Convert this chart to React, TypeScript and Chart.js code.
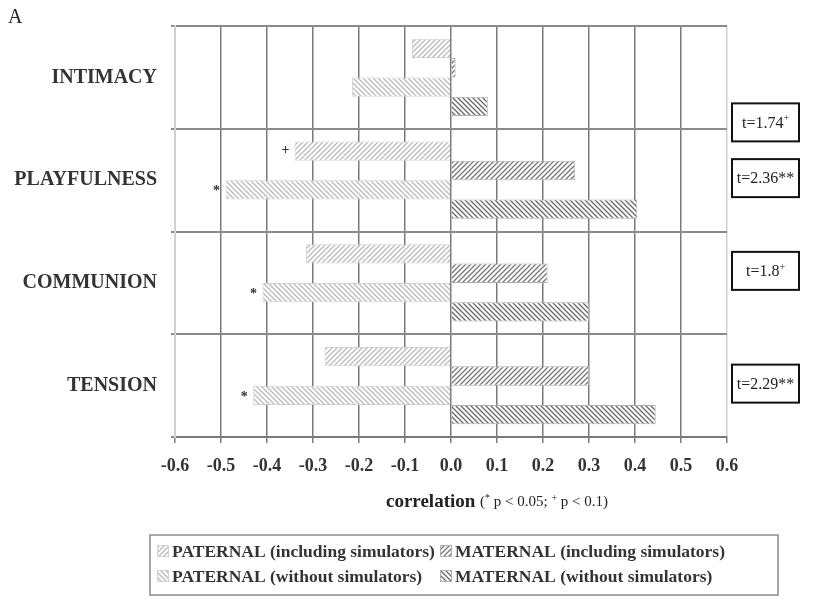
import { useEffect, useRef } from "react";
import { Chart, registerables } from "chart.js";

Chart.register(...registerables);

// ---------- data ----------
const categories = ["INTIMACY", "PLAYFULNESS", "COMMUNION", "TENSION"];
const seriesLabels = [
  "PATERNAL (including simulators)",
  "MATERNAL (including simulators)",
  "PATERNAL (without simulators)",
  "MATERNAL (without simulators)",
];
const paternalIncluding = [-0.085, -0.34, -0.315, -0.275];
const maternalIncluding = [0.01, 0.27, 0.21, 0.3];
const paternalWithout = [-0.215, -0.49, -0.41, -0.43];
const maternalWithout = [0.08, 0.405, 0.3, 0.445];
const paternalIncludingSig = ["", "+", "", ""];
const paternalWithoutSig = ["", "*", "*", "*"];
const tValues = ["1.74", "2.36", "1.8", "2.29"];
const tMarks = ["+", "**", "+", "**"];
const axisTitle = "correlation";
const axisNote = ["(", "*", " p < 0.05; ", "+", " p < 0.1)"];
const panelLetter = "A";

// ---------- layout constants ----------
const W = 831;
const H = 601;
const SERIF = "'Liberation Serif', 'Times New Roman', serif";
const T_BOX_OFFSETS = [45, -2, -12, -2];

function makePattern(color: string, forward: boolean) {
  const s = 5;
  const c = document.createElement("canvas");
  c.width = s;
  c.height = s;
  const g = c.getContext("2d")!;
  g.fillStyle = "#ffffff";
  g.fillRect(0, 0, s, s);
  g.strokeStyle = color;
  g.lineWidth = 1.3;
  g.beginPath();
  if (forward) {
    g.moveTo(0, s);
    g.lineTo(s, 0);
    g.moveTo(-1, 1);
    g.lineTo(1, -1);
    g.moveTo(s - 1, s + 1);
    g.lineTo(s + 1, s - 1);
  } else {
    g.moveTo(0, 0);
    g.lineTo(s, s);
    g.moveTo(-1, s - 1);
    g.lineTo(1, s + 1);
    g.moveTo(s - 1, -1);
    g.lineTo(s + 1, 1);
  }
  g.stroke();
  return g.createPattern(c, "repeat")!;
}

export default function App() {
  const ref = useRef<HTMLCanvasElement | null>(null);

  useEffect(() => {
    if (!ref.current) return;
    const patterns = [
      makePattern("#bababa", true),
      makePattern("#767676", true),
      makePattern("#bababa", false),
      makePattern("#686868", false),
    ];
    const borders = ["#d2d2d2", "#b0b0b0", "#d2d2d2", "#b0b0b0"];
    const values = [paternalIncluding, maternalIncluding, paternalWithout, maternalWithout];
    const sigs = [paternalIncludingSig, null, paternalWithoutSig, null];

    const overlay = {
      id: "overlay",
      afterDatasetsDraw(chart: any) {
        const ctx = chart.ctx as CanvasRenderingContext2D;
        ctx.save();
        ctx.fillStyle = "#333";
        ctx.font = `bold 14px ${SERIF}`;
        ctx.textAlign = "center";
        ctx.textBaseline = "middle";
        sigs.forEach((arr, di) => {
          if (!arr) return;
          const meta = chart.getDatasetMeta(di);
          arr.forEach((m, i) => {
            if (!m) return;
            const el = meta.data[i];
            ctx.fillText(m, el.x - 9, el.y + (m === "*" ? 2 : -1));
          });
        });
        ctx.restore();
      },
      afterDraw(chart: any) {
        const ctx = chart.ctx as CanvasRenderingContext2D;
        const area = chart.chartArea;
        const yScale = chart.scales.y;
        ctx.save();

        // panel letter
        ctx.fillStyle = "#222";
        ctx.font = `20px ${SERIF}`;
        ctx.textAlign = "left";
        ctx.textBaseline = "middle";
        ctx.fillText(panelLetter, 8, 18);

        // t boxes
        tValues.forEach((t, i) => {
          const cy = yScale.getPixelForValue(i) + T_BOX_OFFSETS[i];
          const bx = area.right + 5;
          const bw = 67;
          const bh = 38;
          ctx.strokeStyle = "#111";
          ctx.lineWidth = 2;
          ctx.strokeRect(bx, cy - bh / 2, bw, bh);
          const main = `t=${t}`;
          const mark = tMarks[i];
          const sup = mark === "+";
          ctx.font = `16px ${SERIF}`;
          const w1 = ctx.measureText(main).width;
          ctx.font = sup ? `10px ${SERIF}` : `16px ${SERIF}`;
          const w2 = ctx.measureText(mark).width;
          const sx = bx + (bw - w1 - w2) / 2;
          ctx.fillStyle = "#222";
          ctx.textAlign = "left";
          ctx.textBaseline = "middle";
          ctx.font = `16px ${SERIF}`;
          ctx.fillText(main, sx, cy + 1);
          ctx.font = sup ? `10px ${SERIF}` : `16px ${SERIF}`;
          ctx.fillText(mark, sx + w1, sup ? cy - 4 : cy + 1);
        });

        // axis title
        const ty = area.bottom + 65;
        const parts: { t: string; f: string; dy: number }[] = [
          { t: axisTitle + " ", f: `bold 19px ${SERIF}`, dy: 0 },
          { t: axisNote[0], f: `15px ${SERIF}`, dy: 0 },
          { t: axisNote[1], f: `10px ${SERIF}`, dy: -4 },
          { t: axisNote[2], f: `15px ${SERIF}`, dy: 0 },
          { t: axisNote[3], f: `10px ${SERIF}`, dy: -4 },
          { t: axisNote[4], f: `15px ${SERIF}`, dy: 0 },
        ];
        let total = 0;
        parts.forEach((p) => {
          ctx.font = p.f;
          total += ctx.measureText(p.t).width;
        });
        let px = (area.left + area.right) / 2 + 46 - total / 2;
        ctx.fillStyle = "#222";
        ctx.textAlign = "left";
        ctx.textBaseline = "middle";
        parts.forEach((p) => {
          ctx.font = p.f;
          ctx.fillText(p.t, px, ty + p.dy);
          px += ctx.measureText(p.t).width;
        });

        // legend
        const lx = 150;
        const ly = 535;
        const lw = 628;
        const lh = 60;
        ctx.strokeStyle = "#8a8a8a";
        ctx.lineWidth = 1.5;
        ctx.strokeRect(lx, ly, lw, lh);
        const colX = [157, 440];
        const rowY = [551, 576];
        chart.data.datasets.forEach((ds: any, i: number) => {
          const x = colX[i % 2];
          const y = rowY[Math.floor(i / 2)];
          ctx.fillStyle = patterns[i];
          ctx.fillRect(x, y - 6, 12, 12);
          ctx.strokeStyle = borders[i];
          ctx.lineWidth = 1;
          ctx.strokeRect(x + 0.5, y - 5.5, 11, 11);
          ctx.fillStyle = "#333";
          ctx.font = `bold 17.5px ${SERIF}`;
          ctx.textAlign = "left";
          ctx.textBaseline = "middle";
          ctx.fillText(ds.label, x + 15, y + 1);
        });

        ctx.restore();
      },
    };

    const chart = new Chart(ref.current, {
      type: "bar",
      data: {
        labels: categories,
        datasets: values.map((v, i) => ({
          label: seriesLabels[i],
          data: v,
          backgroundColor: patterns[i],
          borderColor: borders[i],
          borderWidth: 1,
          categoryPercentage: 0.75,
          barPercentage: 1,
        })),
      },
      options: {
        indexAxis: "y",
        animation: false,
        responsive: false,
        layout: { padding: { top: 22, right: 104, left: 0, bottom: 0 } },
        plugins: {
          legend: { display: false },
          tooltip: { enabled: false },
          title: { display: false },
        },
        scales: {
          x: {
            type: "linear",
            min: -0.6,
            max: 0.6,
            ticks: {
              stepSize: 0.1,
              callback: (v: any) => (Math.abs(Number(v)) < 1e-9 ? "0.0" : Number(v).toFixed(1)),
              font: { family: SERIF, size: 18, weight: "bold" },
              color: "#333",
              padding: 13,
            },
            grid: {
              color: (c: any) => (c.index === 0 || c.index === 12 ? "#d0d0d0" : "#7a7a7a"),
              lineWidth: 1.5,
              tickLength: 6,
              tickColor: "#7a7a7a",
              tickWidth: 1.5,
            },
            border: { color: "#7a7a7a", width: 2 },
            afterFit: (s: any) => {
              s.height = 164;
            },
          },
          y: {
            ticks: {
              font: { family: SERIF, size: 20, weight: "bold" },
              color: "#333",
              padding: 14,
            },
            grid: {
              color: "#8a8a8a",
              lineWidth: 2,
              tickLength: 4,
              offset: true,
            },
            border: { color: "#d0d0d0", width: 2 },
            afterFit: (s: any) => {
              s.width = 175;
            },
          },
        },
      } as any,
      plugins: [overlay],
    });
    return () => chart.destroy();
  }, []);

  return (
    <div style={{ position: "absolute", left: 0, top: 0, width: W, height: H }}>
      <canvas ref={ref} width={W} height={H} style={{ display: "block" }} />
    </div>
  );
}
